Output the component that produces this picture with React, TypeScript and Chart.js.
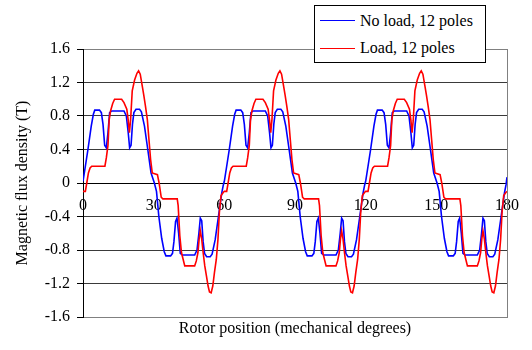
import React, { useEffect, useRef } from 'react';
import { Chart, registerables } from 'chart.js';

Chart.register(...registerables);

const FONT = "'Liberation Serif', 'Times New Roman', Times, serif";

const seriesNames = ['No load, 12 poles', 'Load, 12 poles'];
const xTitle = 'Rotor position (mechanical degrees)';
const yTitle = 'Magnetic flux density (T)';
const xMin = 0;
const xMax = 180;
const xStep = 30;
const yMin = -1.6;
const yMax = 1.6;
const yStep = 0.4;

// No load (blue) — rotor angle in degrees and flux density in T
const noLoadAngles = [
  0, 1, 2.1, 3.5, 4.4, 5, 7, 7.8, 8.5, 9.2, 9.9, 10.6, 11.3, 12.2, 17.4, 18.4, 19.2, 19.8, 20.4, 21,
  21.6, 22.5, 24, 24.8, 26.1, 27.5, 28.9, 30.3, 31.2, 32.2, 33.4, 34.5, 35.2, 37.2, 38, 38.6, 39.3, 39.9, 40.6, 41.3,
  42.2, 47.4, 48.4, 49.2, 49.8, 50.4, 51, 51.6, 52.5, 54, 54.8, 56.1, 57.5, 58.9, 59.6,
  60, 61, 62.1, 63.5, 64.4, 65, 67, 67.8, 68.5, 69.2, 69.9, 70.6, 71.3, 72.2, 77.4, 78.4, 79.2, 79.8, 80.4, 81,
  81.6, 82.5, 84, 84.8, 86.1, 87.5, 88.9, 90.3, 91.2, 92.2, 93.4, 94.5, 95.2, 97.2, 98, 98.6, 99.3, 99.9, 100.6, 101.3,
  102.2, 107.4, 108.4, 109.2, 109.8, 110.4, 111, 111.6, 112.5, 114, 114.8, 116.1, 117.5, 118.9, 119.6,
  120, 121, 122.1, 123.5, 124.4, 125, 127, 127.8, 128.5, 129.2, 129.9, 130.6, 131.3, 132.2, 137.4, 138.4, 139.2, 139.8, 140.4, 141,
  141.6, 142.5, 144, 144.8, 146.1, 147.5, 148.9, 150.3, 151.2, 152.2, 153.4, 154.5, 155.2, 157.2, 158, 158.6, 159.3, 159.9, 160.6, 161.3,
  162.2, 167.4, 168.4, 169.2, 169.8, 170.4, 171, 171.6, 172.5, 174, 174.8, 176.1, 177.5, 178.9, 179.6,
  180,
];
const noLoadValues = [
  0.02, 0.2, 0.4, 0.68, 0.82, 0.87, 0.87, 0.84, 0.7, 0.45, 0.42, 0.6, 0.84, 0.86, 0.86, 0.8, 0.6, 0.42, 0.45, 0.7,
  0.84, 0.88, 0.88, 0.85, 0.68, 0.4, 0.12, 0, -0.1, -0.4, -0.66, -0.82, -0.87, -0.87, -0.84, -0.7, -0.46, -0.42, -0.6, -0.84,
  -0.86, -0.86, -0.8, -0.6, -0.42, -0.45, -0.7, -0.84, -0.88, -0.88, -0.85, -0.68, -0.4, -0.12, -0.02,
  0.02, 0.2, 0.4, 0.68, 0.82, 0.87, 0.87, 0.84, 0.7, 0.45, 0.42, 0.6, 0.84, 0.86, 0.86, 0.8, 0.6, 0.42, 0.45, 0.7,
  0.84, 0.88, 0.88, 0.85, 0.68, 0.4, 0.12, 0, -0.1, -0.4, -0.66, -0.82, -0.87, -0.87, -0.84, -0.7, -0.46, -0.42, -0.6, -0.84,
  -0.86, -0.86, -0.8, -0.6, -0.42, -0.45, -0.7, -0.84, -0.88, -0.88, -0.85, -0.68, -0.4, -0.12, -0.02,
  0.02, 0.2, 0.4, 0.68, 0.82, 0.87, 0.87, 0.84, 0.7, 0.45, 0.42, 0.6, 0.84, 0.86, 0.86, 0.8, 0.6, 0.42, 0.45, 0.7,
  0.84, 0.88, 0.88, 0.85, 0.68, 0.4, 0.12, 0, -0.1, -0.4, -0.66, -0.82, -0.87, -0.87, -0.84, -0.7, -0.46, -0.42, -0.6, -0.84,
  -0.86, -0.86, -0.8, -0.6, -0.42, -0.45, -0.7, -0.84, -0.88, -0.88, -0.85, -0.68, -0.4, -0.12, -0.02,
  0.07,
];

// Load (red)
const loadAngles = [
  0, 1, 1.6, 2.3, 3, 3.7, 9.3, 9.9, 10.6, 11.1, 11.7, 12.6, 13.4, 16.4, 17.4, 18.6, 19.2, 19.7, 20.2, 20.9,
  21.9, 22.9, 23.6, 24.3, 25.2, 25.8, 26.5, 27.3, 28, 28.7, 29.4, 31.6, 32.3, 33.2, 33.9, 40, 40.4, 41.1, 41.8, 42.5,
  43.2, 47.4, 48.1, 48.8, 49.3, 49.8, 50.4, 51, 51.7, 52.4, 53.1, 53.7, 54.4, 55.1, 55.8, 56.6, 57.3, 57.9, 58.6, 59.6,
  60, 61, 61.6, 62.3, 63, 63.7, 69.3, 69.9, 70.6, 71.1, 71.7, 72.6, 73.4, 76.4, 77.4, 78.6, 79.2, 79.7, 80.2, 80.9,
  81.9, 82.9, 83.6, 84.3, 85.2, 85.8, 86.5, 87.3, 88, 88.7, 89.4, 91.6, 92.3, 93.2, 93.9, 100, 100.4, 101.1, 101.8, 102.5,
  103.2, 107.4, 108.1, 108.8, 109.3, 109.8, 110.4, 111, 111.7, 112.4, 113.1, 113.7, 114.4, 115.1, 115.8, 116.6, 117.3, 117.9, 118.6, 119.6,
  120, 121, 121.6, 122.3, 123, 123.7, 129.3, 129.9, 130.6, 131.1, 131.7, 132.6, 133.4, 136.4, 137.4, 138.6, 139.2, 139.7, 140.2, 140.9,
  141.9, 142.9, 143.6, 144.3, 145.2, 145.8, 146.5, 147.3, 148, 148.7, 149.4, 151.6, 152.3, 153.2, 153.9, 160, 160.4, 161.1, 161.8, 162.5,
  163.2, 167.4, 168.1, 168.8, 169.3, 169.8, 170.4, 171, 171.7, 172.4, 173.1, 173.7, 174.4, 175.1, 175.8, 176.6, 177.3, 177.9, 178.6, 179.6,
  180,
];
const loadValues = [
  -0.1, -0.1, 0, 0.12, 0.18, 0.2, 0.2, 0.3, 0.45, 0.75, 0.86, 0.95, 1.0, 1.0, 0.96, 0.88, 0.75, 0.6, 0.75, 1.1,
  1.23, 1.31, 1.34, 1.3, 1.15, 1.05, 0.92, 0.76, 0.52, 0.28, 0.12, 0.1, 0, -0.17, -0.19, -0.19, -0.27, -0.63, -0.83, -0.91,
  -0.99, -0.99, -0.93, -0.83, -0.67, -0.57, -0.67, -0.83, -0.99, -1.11, -1.23, -1.3, -1.31, -1.23, -1.07, -0.91, -0.67, -0.35, -0.15, -0.11,
  -0.1, -0.1, 0, 0.12, 0.18, 0.2, 0.2, 0.3, 0.45, 0.75, 0.86, 0.95, 1.0, 1.0, 0.96, 0.88, 0.75, 0.6, 0.75, 1.1,
  1.23, 1.31, 1.34, 1.3, 1.15, 1.05, 0.92, 0.76, 0.52, 0.28, 0.12, 0.1, 0, -0.17, -0.19, -0.19, -0.27, -0.63, -0.83, -0.91,
  -0.99, -0.99, -0.93, -0.83, -0.67, -0.57, -0.67, -0.83, -0.99, -1.11, -1.23, -1.3, -1.31, -1.23, -1.07, -0.91, -0.67, -0.35, -0.15, -0.11,
  -0.1, -0.1, 0, 0.12, 0.18, 0.2, 0.2, 0.3, 0.45, 0.75, 0.86, 0.95, 1.0, 1.0, 0.96, 0.88, 0.75, 0.6, 0.75, 1.1,
  1.23, 1.31, 1.34, 1.3, 1.15, 1.05, 0.92, 0.76, 0.52, 0.28, 0.12, 0.1, 0, -0.17, -0.19, -0.19, -0.27, -0.63, -0.83, -0.91,
  -0.99, -0.99, -0.93, -0.83, -0.67, -0.57, -0.67, -0.83, -0.99, -1.11, -1.23, -1.3, -1.31, -1.23, -1.07, -0.91, -0.67, -0.35, -0.15, -0.11,
  -0.1,
];

const seriesColors = ['#0000FF', '#FF0000'];

export default function App() {
  const canvasRef = useRef<HTMLCanvasElement | null>(null);

  useEffect(() => {
    document.body.style.margin = '0';
    const canvas = canvasRef.current;
    if (!canvas) return;
    const font = { family: FONT, size: 16 };
    const chart = new Chart(canvas, {
      type: 'line',
      data: {
        datasets: [
          {
            label: seriesNames[0],
            data: noLoadAngles.map((a, i) => ({ x: a, y: noLoadValues[i] })),
            borderColor: seriesColors[0],
            borderWidth: 1.6,
            pointRadius: 0,
            tension: 0,
            fill: false,
            order: 2,
            xAxisID: 'x',
            yAxisID: 'y',
          },
          {
            label: seriesNames[1],
            data: loadAngles.map((a, i) => ({ x: a, y: loadValues[i] })),
            borderColor: seriesColors[1],
            borderWidth: 1.6,
            pointRadius: 0,
            tension: 0,
            fill: false,
            order: 1,
            xAxisID: 'x',
            yAxisID: 'y',
          },
        ],
      },
      options: {
        animation: false,
        responsive: false,
        events: [],
        layout: { padding: { top: 49, right: 22, bottom: 0, left: 0 } },
        plugins: {
          legend: { display: false },
          tooltip: { enabled: false },
          title: { display: false },
        },
        scales: {
          x: {
            type: 'linear',
            min: xMin,
            max: xMax,
            position: { y: 0 } as any,
            grid: { display: false, drawTicks: false },
            border: { display: true, color: '#000', width: 1 },
            ticks: {
              stepSize: xStep,
              padding: 13,
              maxRotation: 0,
              autoSkip: false,
              color: '#000',
              font,
            },
            afterFit: (s: any) => {
              s.height = 0;
            },
          },
          x2: {
            type: 'linear',
            axis: 'x',
            position: 'bottom',
            min: xMin,
            max: xMax,
            grid: { display: false, drawTicks: false },
            ticks: { display: false },
            border: { display: true, color: '#808080', width: 1 },
            title: {
              display: true,
              text: xTitle,
              color: '#000',
              font,
              padding: { top: 0, bottom: 12 },
            },
            afterFit: (s: any) => {
              s.height = 33;
            },
          },
          y: {
            type: 'linear',
            position: 'left',
            min: yMin,
            max: yMax,
            ticks: {
              stepSize: yStep,
              padding: 7,
              color: '#000',
              font,
              callback: (v: any) => String(Math.round(Number(v) * 10) / 10),
            },
            grid: {
              color: (ctx: any) => {
                const v = ctx.tick ? Math.round(ctx.tick.value * 10) / 10 : 0;
                if (v === 1.6 || v === -1.6) return '#808080';
                if (v === 0) return '#000';
                return '#3a3a3a';
              },
              tickColor: '#000',
              tickLength: 6,
              lineWidth: 1,
            },
            border: { display: true, color: '#000', width: 1 },
            title: {
              display: true,
              text: yTitle,
              color: '#000',
              font,
              padding: { top: 13, bottom: 0 },
            },
            afterFit: (s: any) => {
              s.width = 83;
            },
          },
          y2: {
            type: 'linear',
            axis: 'y',
            position: 'right',
            min: yMin,
            max: yMax,
            grid: { display: false, drawTicks: false },
            ticks: { display: false },
            border: { display: true, color: '#808080', width: 1 },
            afterFit: (s: any) => {
              s.width = 0;
            },
          },
        },
      } as any,
    });
    return () => chart.destroy();
  }, []);

  const textStyle: React.CSSProperties = {
    position: 'absolute',
    font: `16px ${FONT}`,
    lineHeight: '18px',
    whiteSpace: 'nowrap',
    color: '#000',
  };

  return (
    <div style={{ position: 'relative', width: 532, height: 350, overflow: 'hidden', background: '#fff' }}>
      <canvas ref={canvasRef} width={532} height={350} style={{ display: 'block' }} />
      <div
        style={{
          position: 'absolute',
          left: 314,
          top: 5,
          width: 172,
          height: 58,
          border: '1px solid #000',
          background: '#fff',
          boxSizing: 'border-box',
        }}
      />
      <div style={{ position: 'absolute', left: 320, top: 20, width: 35, height: 0, borderTop: `1.6px solid ${seriesColors[0]}` }} />
      <div style={{ ...textStyle, left: 360, top: 11.5 }}>{seriesNames[0]}</div>
      <div style={{ position: 'absolute', left: 320, top: 47.5, width: 35, height: 0, borderTop: `1.6px solid ${seriesColors[1]}` }} />
      <div style={{ ...textStyle, left: 360, top: 39 }}>{seriesNames[1]}</div>
    </div>
  );
}
